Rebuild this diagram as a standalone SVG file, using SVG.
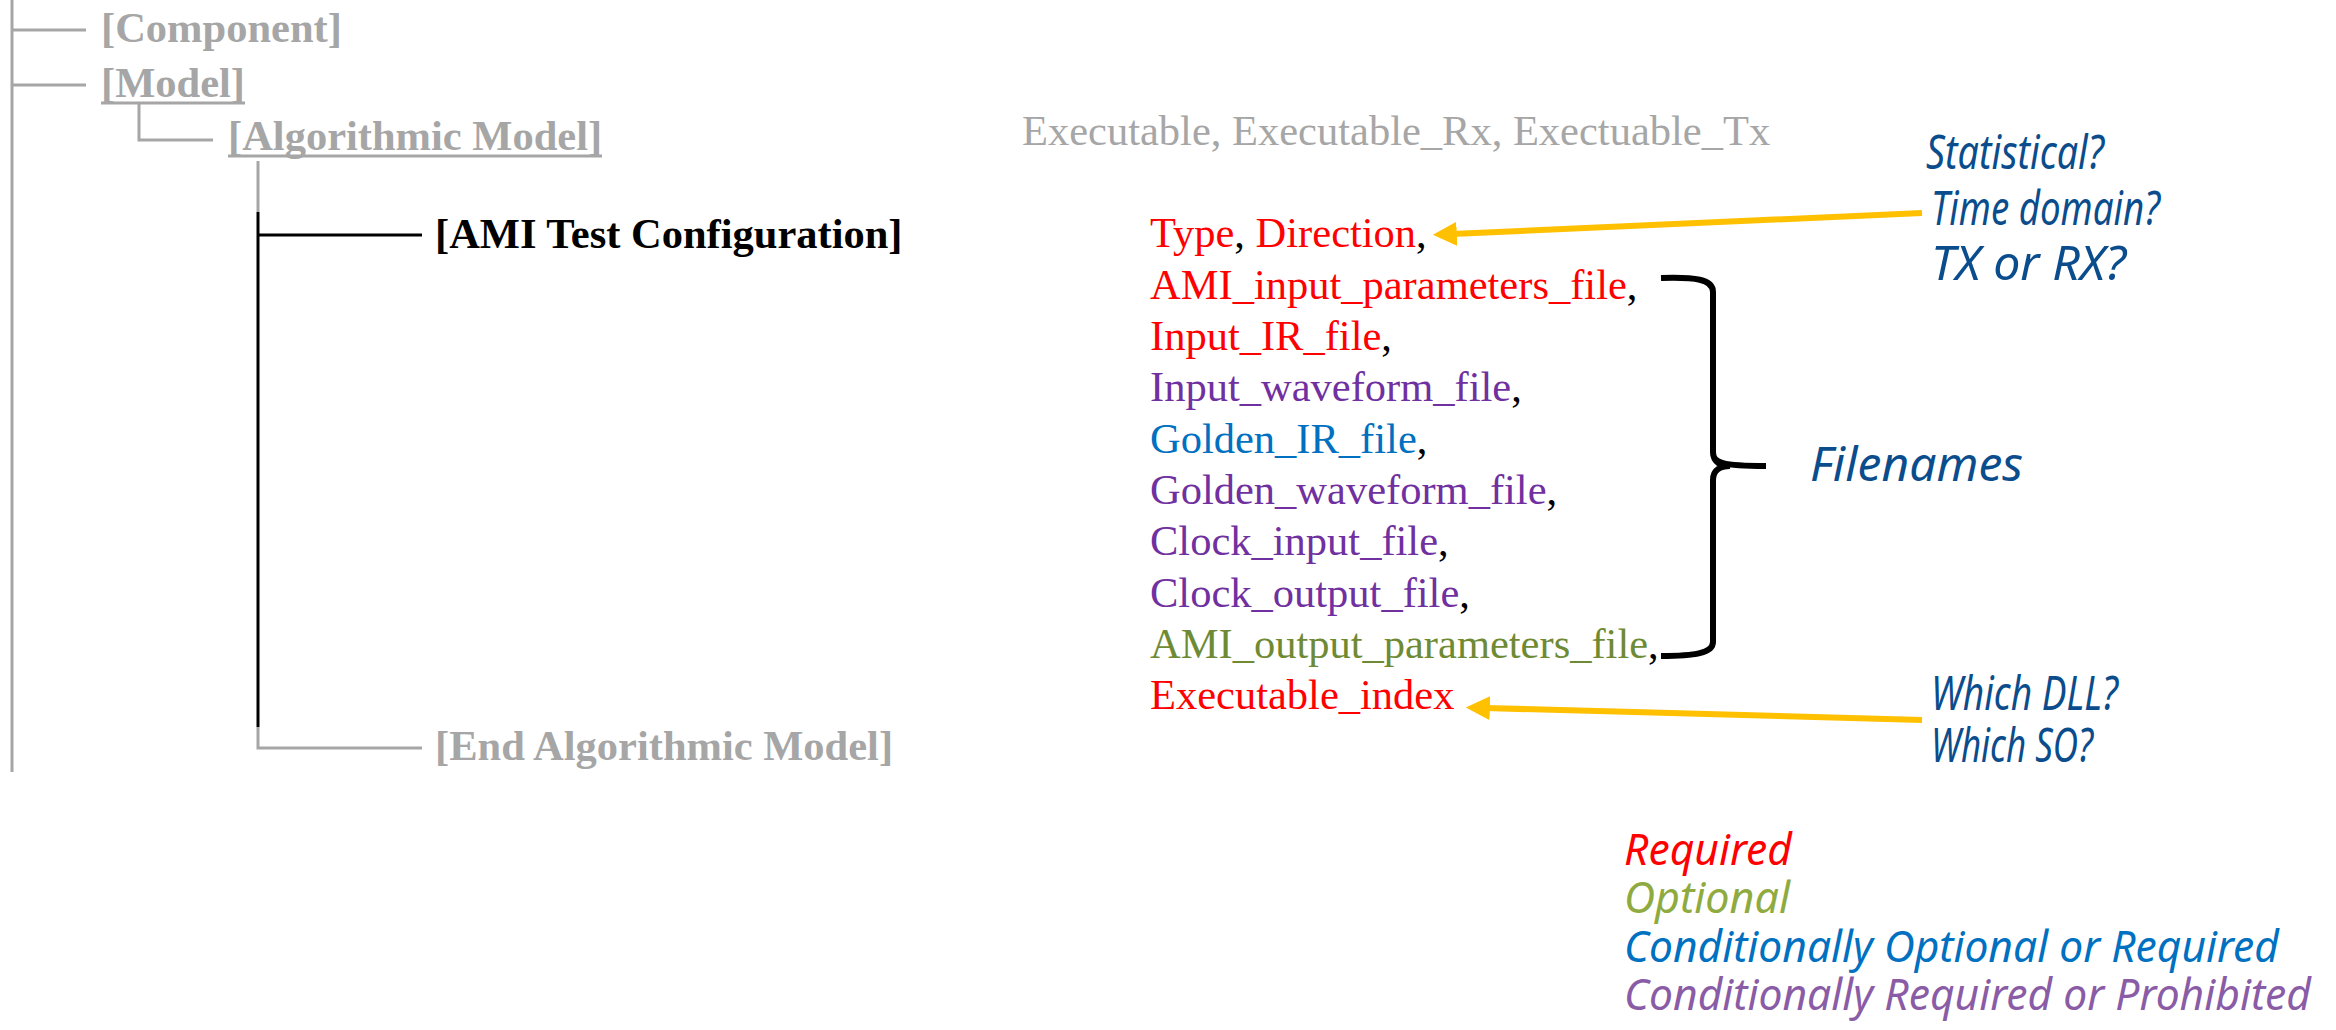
<svg xmlns="http://www.w3.org/2000/svg" width="2336" height="1030" viewBox="0 0 2336 1030">
<style>
.tree{font-family:"Liberation Serif","Times New Roman",serif;font-weight:bold;font-size:42.5px}
.g{fill:#a6a6a6}
.k{fill:#000}
.item{font-family:"Liberation Serif","Times New Roman",serif;font-size:42.5px}
.red{fill:#ff0000}.pur{fill:#7030a0}.blu{fill:#0070c0}.grn{fill:#6f8a34}.com{fill:#000}
.note{font-family:"Noto Sans","Open Sans",sans-serif;font-style:italic;font-size:48px;fill:#0b4d8c}
.leg{font-family:"Noto Sans","Open Sans",sans-serif;font-style:italic;font-size:43px}
.gl{stroke:#a6a6a6;stroke-width:3;fill:none}
.bl{stroke:#000;stroke-width:3;fill:none}
.ul{stroke:#a6a6a6;stroke-width:3}
.brace{stroke:#000;stroke-width:6;fill:none;stroke-linejoin:round}
.arrow{stroke:#ffc000;stroke-width:6;fill:none}
</style>
<defs>
<marker id="ah" viewBox="0 0 10 10" refX="2" refY="5" markerWidth="4" markerHeight="4" orient="auto-start-reverse" markerUnits="strokeWidth">
<path d="M0,0 L10,5 L0,10 z" fill="#ffc000"/>
</marker>
</defs>
<g id="connectors">
<path class="gl" d="M12,0 V772"/>
<path class="gl" d="M12,30 H86"/>
<path class="gl" d="M12,85 H86"/>
<path class="gl" d="M139,104 V140 H213"/>
<path class="gl" d="M258,161 V212"/>
<path class="bl" d="M258,212 V727"/>
<path class="bl" d="M258,235 H422"/>
<path class="gl" d="M258,727 V748 H422"/>
<path class="brace" d="M1661,278 C1695,277 1713,279 1713,292 V452 C1713,463 1722,466 1766,466 M1713,452 C1713,463 1722,466 1730,466 M1730,466 C1722,466 1713,469 1713,480 V642 C1713,653 1695,656 1661,656"/>
<path class="arrow" d="M1922,213 L1452,234" marker-end="url(#ah)"/>
<path class="arrow" d="M1922,720 L1485,708" marker-end="url(#ah)"/>
</g>
<g id="node-component"><text class="tree g" x="101" y="42">[Component]</text></g>
<g id="node-model"><text class="tree g" x="101" y="97">[Model]</text><line class="ul" x1="101" y1="103" x2="245" y2="103"/></g>
<g id="node-algorithmic"><text class="tree g" x="228" y="150">[Algorithmic Model]</text><line class="ul" x1="228" y1="156" x2="602" y2="156"/></g>
<g id="node-executables"><text class="item g" x="1022" y="145">Executable, Executable_Rx, Exectuable_Tx</text></g>
<g id="node-ami-test"><text class="tree k" x="435" y="248">[AMI Test Configuration]</text></g>
<g id="node-end"><text class="tree g" x="435" y="760">[End Algorithmic Model]</text></g>
<g id="node-params">
<text class="item" x="1150" y="247"><tspan class="red">Type</tspan><tspan class="com">, </tspan><tspan class="red">Direction</tspan><tspan class="com">,</tspan></text>
<text class="item" x="1150" y="299"><tspan class="red">AMI_input_parameters_file</tspan><tspan class="com">,</tspan></text>
<text class="item" x="1150" y="350"><tspan class="red">Input_IR_file</tspan><tspan class="com">,</tspan></text>
<text class="item" x="1150" y="401"><tspan class="pur">Input_waveform_file</tspan><tspan class="com">,</tspan></text>
<text class="item" x="1150" y="453"><tspan class="blu">Golden_IR_file</tspan><tspan class="com">,</tspan></text>
<text class="item" x="1150" y="504"><tspan class="pur">Golden_waveform_file</tspan><tspan class="com">,</tspan></text>
<text class="item" x="1150" y="555"><tspan class="pur">Clock_input_file</tspan><tspan class="com">,</tspan></text>
<text class="item" x="1150" y="607"><tspan class="pur">Clock_output_file</tspan><tspan class="com">,</tspan></text>
<text class="item" x="1150" y="658"><tspan class="grn">AMI_output_parameters_file</tspan><tspan class="com">,</tspan></text>
<text class="item" x="1150" y="709"><tspan class="red">Executable_index</tspan></text>
</g>
<g id="note-type">
<text class="note" x="1926" y="169" textLength="178" lengthAdjust="spacingAndGlyphs">Statistical?</text>
<text class="note" x="1931" y="225" textLength="229" lengthAdjust="spacingAndGlyphs">Time domain?</text>
<text class="note" x="1931" y="280" textLength="195" lengthAdjust="spacingAndGlyphs">TX or RX?</text>
</g>
<g id="note-filenames"><text class="note" x="1810" y="481" textLength="213" lengthAdjust="spacingAndGlyphs">Filenames</text></g>
<g id="note-dll">
<text class="note" x="1931" y="710" textLength="187" lengthAdjust="spacingAndGlyphs">Which DLL?</text>
<text class="note" x="1931" y="762" textLength="162" lengthAdjust="spacingAndGlyphs">Which SO?</text>
</g>
<g id="legend">
<text class="leg" x="1624" y="865" fill="#ff0000" textLength="168" lengthAdjust="spacingAndGlyphs">Required</text>
<text class="leg" x="1624" y="913" fill="#8faa3e" textLength="166" lengthAdjust="spacingAndGlyphs">Optional</text>
<text class="leg" x="1624" y="962" fill="#0070c0" textLength="655" lengthAdjust="spacingAndGlyphs">Conditionally Optional or Required</text>
<text class="leg" x="1624" y="1010" fill="#8a5ca6" textLength="687" lengthAdjust="spacingAndGlyphs">Conditionally Required or Prohibited</text>
</g>
</svg>
